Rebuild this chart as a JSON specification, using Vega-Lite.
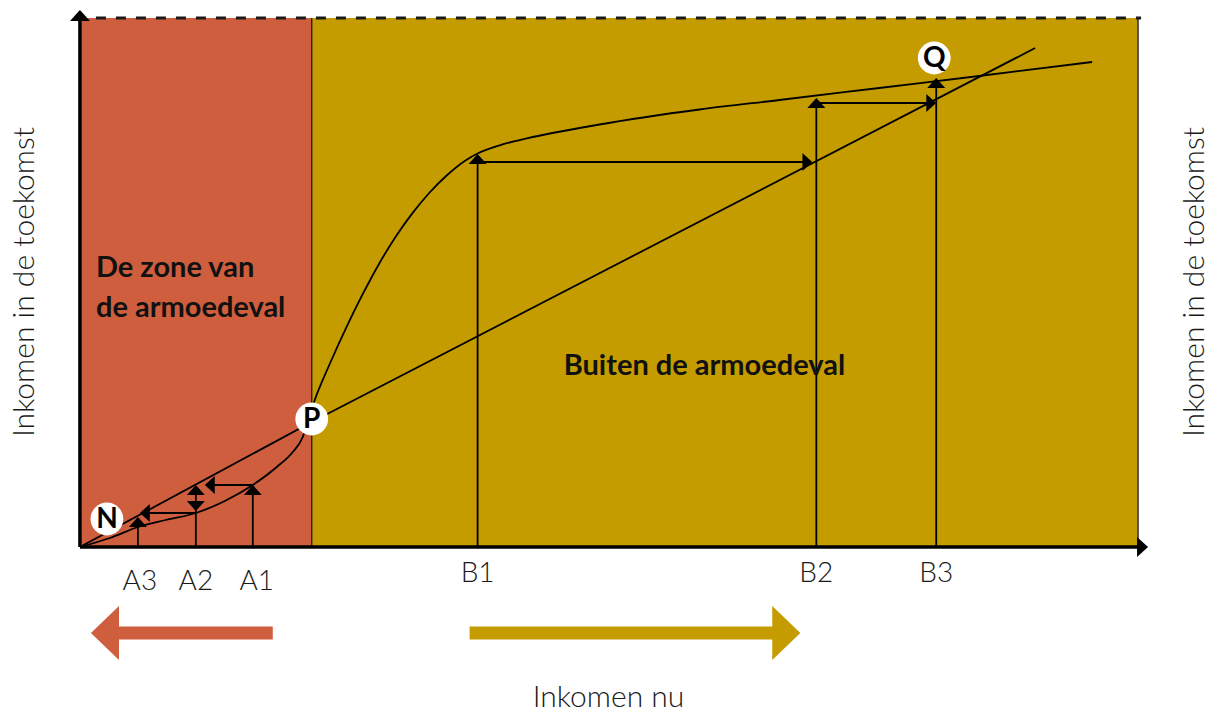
{
  "$schema": "https://vega.github.io/schema/vega-lite/v6.json",
  "width": 1210,
  "height": 713,
  "autosize": {"type": "fit", "contains": "padding"},
  "padding": 0,
  "background": "white",
  "config": {"view": {"stroke": null}},
  "encoding": {
    "x": {"field": "x", "type": "quantitative", "scale": {"domain": [-8, 113], "nice": false, "zero": false}, "axis": null},
    "y": {"field": "y", "type": "quantitative", "scale": {"domain": [-16.6, 54.7], "nice": false, "zero": false}, "axis": null}
  },
  "layer": [
    {
      "data": {"values": [
        {"zone": "in", "x": 0, "x2": 23.2, "y": 0, "y2": 52.9},
        {"zone": "uit", "x": 23.2, "x2": 105.9, "y": 0, "y2": 52.9}
      ]},
      "mark": {"type": "rect"},
      "encoding": {
        "x2": {"field": "x2"},
        "y2": {"field": "y2"},
        "color": {"field": "zone", "type": "nominal", "scale": {"domain": ["in", "uit"], "range": ["#CF5E3E", "#C49C00"]}, "legend": null}
      }
    },
    {
      "data": {"values": [
        {"x": 23.2, "x2": 23.2, "y": 0, "y2": 52.9},
        {"x": 105.9, "x2": 105.9, "y": 0, "y2": 52.9}
      ]},
      "mark": {"type": "rule", "color": "#1a1a1a", "strokeWidth": 1.3},
      "encoding": {"x2": {"field": "x2"}, "y2": {"field": "y2"}}
    },
    {
      "data": {"values": [{"x": 0, "x2": 106.2, "y": 52.9, "y2": 52.9}]},
      "mark": {"type": "rule", "color": "#1a1a1a", "strokeWidth": 3, "strokeDash": [10, 10], "strokeDashOffset": 4},
      "encoding": {"x2": {"field": "x2"}, "y2": {"field": "y2"}}
    },
    {
      "data": {"values": [
        {"x": 0, "y": 0}, {"x": 23.2, "y": 12.5}, {"x": 95.6, "y": 49.9}
      ]},
      "mark": {"type": "line", "color": "black", "strokeWidth": 1.8},
      "encoding": {}
    },
    {
      "data": {"values": [
        {"x": 0, "y": 0}, {"x": 3.0, "y": 0.9}, {"x": 5.8, "y": 2.0}, {"x": 8.6, "y": 2.7},
        {"x": 11.6, "y": 3.4}, {"x": 14.5, "y": 4.6}, {"x": 17.3, "y": 6.2}, {"x": 19.7, "y": 8.0},
        {"x": 21.3, "y": 9.5}, {"x": 22.3, "y": 11.0}, {"x": 22.9, "y": 12.9}, {"x": 23.5, "y": 14.7},
        {"x": 25.0, "y": 18.3}, {"x": 26.7, "y": 22.04}, {"x": 28.3, "y": 25.28}, {"x": 30.0, "y": 28.43},
        {"x": 31.6, "y": 31.03}, {"x": 33.3, "y": 33.41}, {"x": 35.0, "y": 35.45}, {"x": 36.7, "y": 37.15},
        {"x": 38.7, "y": 38.73}, {"x": 39.8, "y": 39.35}, {"x": 42.0, "y": 40.17}, {"x": 44.0, "y": 40.69},
        {"x": 52.0, "y": 42.25}, {"x": 62.0, "y": 43.75}, {"x": 70.0, "y": 44.7}, {"x": 80.0, "y": 45.9},
        {"x": 90.0, "y": 47.1}, {"x": 101.3, "y": 48.5}
      ]},
      "mark": {"type": "line", "color": "black", "strokeWidth": 1.8, "interpolate": "monotone"},
      "encoding": {}
    },
    {
      "data": {"values": [
        {"x": 17.3, "x2": 17.3, "y": 0, "y2": 6.2},
        {"x": 17.3, "x2": 13.0, "y": 6.2, "y2": 6.2},
        {"x": 11.6, "x2": 11.6, "y": 0, "y2": 6.0},
        {"x": 11.6, "x2": 6.5, "y": 3.4, "y2": 3.4},
        {"x": 5.8, "x2": 5.8, "y": 0, "y2": 2.8},
        {"x": 39.8, "x2": 39.8, "y": 0, "y2": 39.1},
        {"x": 39.8, "x2": 72.8, "y": 38.5, "y2": 38.5},
        {"x": 73.7, "x2": 73.7, "y": 0, "y2": 44.7},
        {"x": 73.7, "x2": 85.2, "y": 44.4, "y2": 44.4},
        {"x": 85.7, "x2": 85.7, "y": 0, "y2": 46.7}
      ]},
      "mark": {"type": "rule", "color": "black", "strokeWidth": 1.8},
      "encoding": {"x2": {"field": "x2"}, "y2": {"field": "y2"}}
    },
    {
      "data": {"values": [
        {"x": 17.3, "y": 6.2, "dir": "up"},
        {"x": 12.5, "y": 6.2, "dir": "left"},
        {"x": 11.6, "y": 6.2, "dir": "up"},
        {"x": 11.6, "y": 3.6, "dir": "down"},
        {"x": 6.0, "y": 3.4, "dir": "left"},
        {"x": 5.8, "y": 3.0, "dir": "up"},
        {"x": 39.8, "y": 39.3, "dir": "up"},
        {"x": 73.3, "y": 38.5, "dir": "right"},
        {"x": 73.7, "y": 44.9, "dir": "up"},
        {"x": 85.7, "y": 44.4, "dir": "right"},
        {"x": 85.7, "y": 46.9, "dir": "up"}
      ]},
      "mark": {"type": "point", "filled": true, "color": "black", "opacity": 1, "size": 324, "strokeWidth": 0},
      "encoding": {
        "shape": {"field": "dir", "type": "nominal", "legend": null,
          "scale": {"domain": ["up", "down", "left", "right", "bigleft", "bigright"],
                    "range": ["M0,0L1,1.1L-1,1.1Z", "M0,0L1,-1.1L-1,-1.1Z", "M0,0L1.1,-1L1.1,1Z", "M0,0L-1.1,-1L-1.1,1Z", "M0,0L1.04,-1L1.04,1Z", "M0,0L-1.04,-1L-1.04,1Z"]}}
      }
    },
    {
      "data": {"values": [
        {"x": 0, "x2": 0, "y": 0, "y2": 52.8},
        {"x": 0, "x2": 106.0, "y": 0, "y2": 0}
      ]},
      "mark": {"type": "rule", "color": "black", "strokeWidth": 3.5},
      "encoding": {"x2": {"field": "x2"}, "y2": {"field": "y2"}}
    },
    {
      "data": {"values": [
        {"x": 0, "y": 53.7, "dir": "up"},
        {"x": 106.9, "y": 0, "dir": "right"}
      ]},
      "mark": {"type": "point", "filled": true, "color": "black", "opacity": 1, "size": 400, "strokeWidth": 0},
      "encoding": {
        "shape": {"field": "dir", "type": "nominal", "legend": null,
          "scale": {"domain": ["up", "down", "left", "right", "bigleft", "bigright"],
                    "range": ["M0,0L1,1.1L-1,1.1Z", "M0,0L1,-1.1L-1,-1.1Z", "M0,0L1.1,-1L1.1,1Z", "M0,0L-1.1,-1L-1.1,1Z", "M0,0L1.04,-1L1.04,1Z", "M0,0L-1.04,-1L-1.04,1Z"]}}
      }
    },
    {
      "data": {"values": [
        {"zone": "in", "x": 3.9, "x2": 19.3, "y": -8.6, "y2": -8.6},
        {"zone": "uit", "x": 39.0, "x2": 69.4, "y": -8.6, "y2": -8.6}
      ]},
      "mark": {"type": "rule", "strokeWidth": 13, "strokeCap": "butt"},
      "encoding": {
        "x2": {"field": "x2"}, "y2": {"field": "y2"},
        "color": {"field": "zone", "type": "nominal", "scale": {"domain": ["in", "uit"], "range": ["#CF5E3E", "#C49C00"]}, "legend": null}
      }
    },
    {
      "data": {"values": [
        {"zone": "in", "x": 1.1, "y": -8.6, "dir": "bigleft"},
        {"zone": "uit", "x": 72.1, "y": -8.6, "dir": "bigright"}
      ]},
      "mark": {"type": "point", "filled": true, "opacity": 1, "size": 2916, "strokeWidth": 0},
      "encoding": {
        "color": {"field": "zone", "type": "nominal", "scale": {"domain": ["in", "uit"], "range": ["#CF5E3E", "#C49C00"]}, "legend": null},
        "shape": {"field": "dir", "type": "nominal", "legend": null,
          "scale": {"domain": ["up", "down", "left", "right", "bigleft", "bigright"],
                    "range": ["M0,0L1,1.1L-1,1.1Z", "M0,0L1,-1.1L-1,-1.1Z", "M0,0L1.1,-1L1.1,1Z", "M0,0L-1.1,-1L-1.1,1Z", "M0,0L1.04,-1L1.04,1Z", "M0,0L-1.04,-1L-1.04,1Z"]}}
      }
    },
    {
      "data": {"values": [
        {"x": 2.7, "y": 2.8, "label": "N"},
        {"x": 23.2, "y": 12.8, "label": "P"},
        {"x": 85.5, "y": 48.9, "label": "Q"}
      ]},
      "layer": [
        {"mark": {"type": "point", "filled": true, "color": "white", "opacity": 1, "size": 1075, "strokeWidth": 0, "shape": "circle"}},
        {"mark": {"type": "text", "font": "Lato", "fontWeight": "bold", "fontSize": 28, "color": "black", "align": "center", "baseline": "middle", "dy": 1},
         "encoding": {"text": {"field": "label"}}}
      ]
    },
    {
      "data": {"values": [
        {"x": 1.6, "y": 27.0, "label": "De zone van"},
        {"x": 1.6, "y": 23.0, "label": "de armoedeval"}
      ]},
      "mark": {"type": "text", "font": "Lato", "fontWeight": "bold", "fontSize": 29, "color": "#111", "align": "left", "baseline": "alphabetic"},
      "encoding": {"text": {"field": "label"}}
    },
    {
      "data": {"values": [{"x": 62.5, "y": 17.2, "label": "Buiten de armoedeval"}]},
      "mark": {"type": "text", "font": "Lato", "fontWeight": "bold", "fontSize": 29, "color": "#111", "align": "center", "baseline": "alphabetic"},
      "encoding": {"text": {"field": "label"}}
    },
    {
      "data": {"values": [
        {"x": 6.0, "y": -4.3, "label": "A3"},
        {"x": 11.6, "y": -4.3, "label": "A2"},
        {"x": 17.7, "y": -4.3, "label": "A1"},
        {"x": 39.8, "y": -3.5, "label": "B1"},
        {"x": 73.7, "y": -3.5, "label": "B2"},
        {"x": 85.7, "y": -3.5, "label": "B3"}
      ]},
      "mark": {"type": "text", "font": "Lato", "fontWeight": 300, "fontSize": 28, "color": "#1a1a1a", "align": "center", "baseline": "alphabetic"},
      "encoding": {"text": {"field": "label"}}
    },
    {
      "data": {"values": [{"x": 52.9, "y": -16.0, "label": "Inkomen nu"}]},
      "mark": {"type": "text", "font": "Lato", "fontWeight": 300, "fontSize": 30, "color": "#1a1a1a", "align": "center", "baseline": "alphabetic"},
      "encoding": {"text": {"field": "label"}}
    },
    {
      "data": {"values": [
        {"x": -5.5, "y": 26.5, "label": "Inkomen in de toekomst"},
        {"x": 111.6, "y": 26.5, "label": "Inkomen in de toekomst"}
      ]},
      "mark": {"type": "text", "font": "Lato", "fontWeight": 300, "fontSize": 30, "color": "#1a1a1a", "align": "center", "baseline": "middle", "angle": 270},
      "encoding": {"text": {"field": "label"}}
    }
  ]
}
